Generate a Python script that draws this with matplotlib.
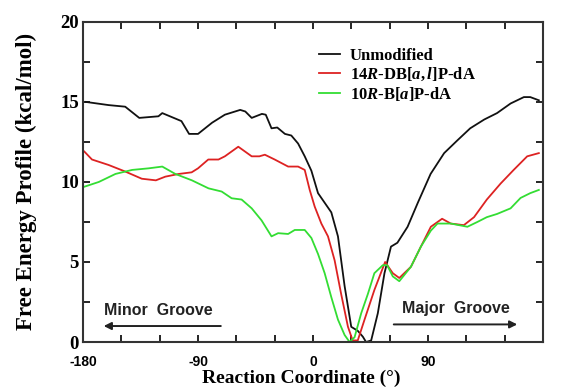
import matplotlib.pyplot as plt
from matplotlib.ticker import MultipleLocator

# Unmodified (black)
unmod_x = [-178, -160, -147, -136, -121, -118, -103, -97, -90, -79, -69, -57, -53, -48, -40, -37,
           -32.5, -28, -22, -17, -11.7, -6.5, -1.3, 3.9, 9.1, 14.3, 19.5, 24.7, 29.9, 35, 39,
           41.5, 45.5, 50.7, 55.9, 61, 66, 74, 82, 92, 102.6, 113, 123, 134, 144, 154.6, 165,
           170, 176.7]
unmod_y = [15.0, 14.8, 14.7, 14.0, 14.1, 14.3, 13.8, 13.0, 13.0, 13.7, 14.2, 14.5, 14.4, 14.0,
           14.25, 14.2, 13.35, 13.4, 13.0, 12.9, 12.4, 11.6, 10.7, 9.3, 8.7, 8.1, 6.6, 3.5,
           0.95, 0.7, 0.33, 0.0, 0.1, 1.8, 4.3, 5.96, 6.2, 7.2, 8.7, 10.5, 11.8, 12.6, 13.35,
           13.9, 14.3, 14.9, 15.3, 15.3, 15.1]

# 14R-DB[a,l]P-dA (red)
red_x = [-179, -173, -160, -147, -134, -123, -115.6, -105, -95, -90, -82, -74, -69, -58.5,
         -55, -48, -42, -37.7, -30, -19.5, -11.7, -6.5, -2.6, 1.3, 6.5, 11.7, 16.9, 22, 27.3,
         31, 35, 40.3, 48, 56.4, 62.4, 67.5, 76.6, 84.4, 92.2, 101, 107.8, 118, 126, 136,
         146.8, 157, 167.6, 176.7]
red_y = [11.9, 11.4, 11.06, 10.65, 10.2, 10.1, 10.33, 10.5, 10.6, 10.85, 11.4, 11.4, 11.6,
         12.2, 12.0, 11.6, 11.6, 11.7, 11.4, 10.96, 10.96, 10.75, 9.5, 8.46, 7.4, 6.6, 5.1,
         3.0, 0.96, 0.1, 0.1, 1.4, 3.25, 5.0, 4.3, 4.0, 4.7, 5.96, 7.2, 7.7, 7.4, 7.3, 7.8,
         8.9, 9.9, 10.75, 11.6, 11.8]

# 10R-B[a]P-dA (green)
green_x = [-179, -167.6, -154.6, -141.6, -128.6, -118, -107.8, -94.8, -81.8, -71.5, -63.7,
           -55.9, -48, -40.3, -32.5, -27.3, -19.5, -14.3, -6.5, -1.3, 3.9, 9.1, 14.3, 19.5,
           24.7, 28.6, 32.5, 37.7, 42.9, 48, 54.6, 58, 62.4, 67.5, 76.6, 84.4, 92.2, 97.4,
           107.8, 120.8, 128.6, 136, 144, 154.6, 162.4, 170, 176.7]
green_y = [9.7, 10.0, 10.5, 10.75, 10.85, 10.96, 10.5, 10.1, 9.6, 9.4, 8.98, 8.9, 8.35, 7.6,
           6.6, 6.8, 6.75, 7.0, 7.0, 6.5, 5.5, 4.3, 2.8, 1.4, 0.44, 0.0, 0.3, 1.8, 3.0, 4.3,
           4.8, 4.8, 4.1, 3.8, 4.7, 5.96, 6.96, 7.4, 7.4, 7.2, 7.5, 7.8, 8.0, 8.35, 9.0, 9.3,
           9.5]

x_ticks = [-180, -150, -120, -90, -60, -30, 0, 30, 60, 90, 120, 150, 180]
x_tick_labels = ['-180', '', '', '-90', '', '', '0', '', '', '90', '', '', '']
y_ticks = [0, 5, 10, 15, 20]

plt.rcParams['mathtext.fontset'] = 'custom'
plt.rcParams['mathtext.rm'] = 'Liberation Serif:bold'
plt.rcParams['mathtext.it'] = 'Liberation Serif:bold:italic'

serif = 'Liberation Serif'
sans = 'Liberation Sans'

fig = plt.figure(figsize=(5.61, 3.90), dpi=100)
ax = fig.add_axes([0.148, 0.123, 0.82, 0.821])

ax.plot(unmod_x, unmod_y, color='#111111', lw=1.3, label='Unmodified')
ax.plot(red_x, red_y, color='#dd2222', lw=1.3, label=r'14$\mathit{R}$-DB[$\mathit{a,l}$]P-dA')
ax.plot(green_x, green_y, color='#33dd33', lw=1.3, label=r'10$\mathit{R}$-B[$\mathit{a}$]P-dA')

ax.set_xlim(-180, 180)
ax.set_ylim(0, 20)
ax.set_xticks(x_ticks)
ax.set_xticklabels(x_tick_labels, fontfamily=sans, fontweight='bold', fontsize=10)
ax.set_yticks(y_ticks)
ax.set_yticklabels([str(v) for v in y_ticks], fontfamily=serif, fontweight='bold', fontsize=13.5)
ax.yaxis.set_minor_locator(MultipleLocator(2.5))
ax.tick_params(which='both', direction='in', top=True, right=True, length=5, width=1.2)
ax.tick_params(axis='y', pad=3)
ax.tick_params(axis='x', pad=9)
for s in ax.spines.values():
    s.set_linewidth(1.5)
    s.set_color('#333333')

ax.set_xlabel('Reaction Coordinate (°)', fontfamily=serif, fontweight='bold', fontsize=14,
              labelpad=1, x=0.475)
ax.set_ylabel('Free Energy Profile (kcal/mol)', fontfamily=serif, fontweight='bold', fontsize=16.5,
              labelpad=17)

# groove annotations
ax.text(-121, 2.0, 'Minor  Groove', fontfamily=sans, fontweight='bold', fontsize=11.5,
        color='#222222', ha='center', va='center')
ax.annotate('', xy=(-166, 1.0), xytext=(-70, 1.0),
            arrowprops=dict(arrowstyle='-|>', color='#222222', lw=1.4, mutation_scale=11))
ax.text(112, 2.1, 'Major  Groove', fontfamily=sans, fontweight='bold', fontsize=11.5,
        color='#222222', ha='center', va='center')
ax.annotate('', xy=(162, 1.1), xytext=(61, 1.1),
            arrowprops=dict(arrowstyle='-|>', color='#222222', lw=1.4, mutation_scale=11))

leg = ax.legend(loc='upper left', bbox_to_anchor=(0.48, 0.965), frameon=False,
                handlelength=1.25, handletextpad=0.6, labelspacing=0.12,
                prop={'family': serif, 'weight': 'bold', 'size': 12})

fig.savefig('out.png', dpi=100)
